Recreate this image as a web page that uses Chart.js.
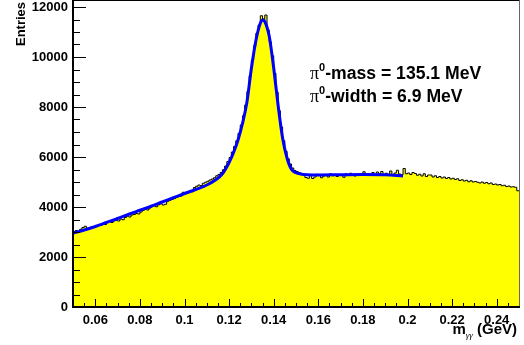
<!DOCTYPE html>
<html>
<head>
<meta charset="utf-8">
<script src="https://cdn.jsdelivr.net/npm/chart.js@4.4.1/dist/chart.umd.min.js"></script>
<style>
  html, body { margin: 0; padding: 0; background: #fff; }
  canvas { display: block; }
</style>
</head>
<body>
<canvas id="massChart" width="524" height="345"></canvas>
<script>
// m(gamma gamma) histogram, 1 MeV bins from 0.05 to 0.25 GeV
const binStart = 0.05;
const binWidth = 0.001;
const entries = [
    3020, 3060, 3000, 3110, 3180, 3230, 3150, 3130, 3210, 3190,
    3240, 3280, 3260, 3340, 3300, 3390, 3420, 3380, 3450, 3470,
    3440, 3520, 3490, 3580, 3630, 3600, 3680, 3700, 3740, 3720,
    3800, 3870, 3900, 3880, 3960, 4020, 4050, 4010, 4090, 4130,
    4080, 4110, 4230, 4270, 4300, 4340, 4380, 4420, 4440, 4590,
    4530, 4560, 4640, 4610, 4780, 4830, 4880, 4860, 4950, 4990,
    5030, 5080, 5120, 5170, 5250, 5300, 5380, 5490, 5640, 5820,
    5980, 6200, 6420, 6650, 6950, 7280, 7650, 8080, 8620, 9250,
    9880, 10450, 10950, 11280, 11650, 11520, 11680, 11080, 10600, 10050,
    9350, 8600, 7850, 7200, 6650, 6230, 5930, 5720, 5560, 5460,
    5420, 5380, 5300, 5310, 5180, 5150, 5290, 5140, 5200, 5310,
    5260, 5170, 5240, 5280, 5200, 5330, 5250, 5280, 5220, 5300,
    5260, 5190, 5330, 5290, 5350, 5280, 5240, 5320, 5300, 5260,
    5410, 5300, 5330, 5260, 5380, 5290, 5400, 5340, 5420, 5300,
    5350, 5280, 5440, 5300, 5360, 5470, 5320, 5290, 5540, 5330,
    5360, 5300, 5380, 5340, 5270, 5310, 5240, 5330, 5220, 5280,
    5280, 5200, 5250, 5180, 5220, 5160, 5200, 5140, 5180, 5120,
    5150, 5100, 5130, 5060, 5090, 5040, 5070, 5010, 5050, 5000,
    5020, 4990, 4960, 5000, 4950, 4980, 4930, 4960, 4900, 4920,
    4880, 4900, 4850, 4870, 4820, 4840, 4800, 4810, 4790, 4650
];

// fit curve (peak + background)
const fitMass = [
    0.050, 0.055, 0.060, 0.065, 0.070, 0.075, 0.080, 0.085, 0.090, 0.095,
    0.100, 0.105, 0.110, 0.114, 0.117, 0.120, 0.122, 0.124, 0.126, 0.128,
    0.130, 0.132, 0.134, 0.1351, 0.136, 0.138, 0.140, 0.142, 0.144, 0.146,
    0.148, 0.150, 0.152, 0.155, 0.160, 0.170, 0.180, 0.190, 0.198
];
const fitValue = [
    2950, 3080, 3220, 3380, 3540, 3710, 3870, 4030, 4200, 4370,
    4540, 4700, 4880, 5090, 5330, 5780, 6180, 6680, 7340, 8200,
    9550, 10650, 11350, 11480, 11420, 10830, 9560, 8050, 6750, 5950,
    5500, 5370, 5320, 5290, 5280, 5290, 5300, 5290, 5240
];

const xTickValues = [0.06, 0.08, 0.10, 0.12, 0.14, 0.16, 0.18, 0.20, 0.22, 0.24];
const xTickLabels = ["0.06", "0.08", "0.1", "0.12", "0.14", "0.16", "0.18", "0.2", "0.22", "0.24"];
const yTickValues = [0, 2000, 4000, 6000, 8000, 10000, 12000];
const yTickLabels = ["0", "2000", "4000", "6000", "8000", "10000", "12000"];

const fitTexts = ["-mass = 135.1 MeV", "-width = 6.9 MeV"];

const FONT = "'Liberation Sans', Arial, Helvetica, sans-serif";

const histPoints = entries.map((n, i) => ({ x: binStart + i * binWidth, y: n }));
histPoints.push({ x: binStart + entries.length * binWidth, y: entries[entries.length - 1] });

const fitPoints = fitMass.map((m, i) => ({ x: m, y: fitValue[i] }));

// frame, inward ticks and the text labels, ROOT style
const rootFrame = {
    id: "rootFrame",
    afterDraw(chart) {
        const ctx = chart.ctx;
        const a = chart.chartArea;
        const xs = chart.scales.x;
        const ys = chart.scales.y;
        ctx.save();

        ctx.strokeStyle = "#000";
        ctx.lineWidth = 1;
        ctx.beginPath();
        for (let k = 50; k <= 250; k += 5) {
            const px = Math.round(xs.getPixelForValue(k / 1000)) + 0.5;
            const len = (k % 20 === 0) ? 8 : 4;
            ctx.moveTo(px, a.bottom);
            ctx.lineTo(px, a.bottom - len);
        }
        for (let k = 0; k <= 12000; k += 500) {
            const py = Math.round(ys.getPixelForValue(k)) + 0.5;
            const len = (k % 2000 === 0) ? 13 : 7;
            ctx.moveTo(a.left, py);
            ctx.lineTo(a.left + len, py);
        }
        ctx.stroke();

        // frame
        ctx.strokeStyle = "#000";
        ctx.lineWidth = 1;
        ctx.beginPath();
        ctx.moveTo(a.left, a.top + 0.5);
        ctx.lineTo(a.right, a.top + 0.5);
        ctx.stroke();
        ctx.strokeStyle = "#666";
        ctx.beginPath();
        ctx.moveTo(a.right + 0.5, a.top);
        ctx.lineTo(a.right + 0.5, a.bottom);
        ctx.stroke();
        ctx.strokeStyle = "#000";
        ctx.lineWidth = 2;
        ctx.beginPath();
        ctx.moveTo(a.left, a.top);
        ctx.lineTo(a.left, a.bottom);
        ctx.lineTo(a.right + 1, a.bottom);
        ctx.stroke();

        // y title
        ctx.fillStyle = "#000";
        ctx.save();
        ctx.translate(21, 24);
        ctx.rotate(-Math.PI / 2);
        ctx.font = "bold 13px " + FONT;
        ctx.textAlign = "center";
        ctx.textBaseline = "middle";
        ctx.fillText("Entries", 0, 0);
        ctx.restore();

        // x title: m_{gamma gamma} (GeV), right aligned
        ctx.textBaseline = "alphabetic";
        ctx.textAlign = "left";
        const xt1 = "m", xt2 = "\u03b3\u03b3", xt3 = " (GeV)";
        ctx.font = "bold 15px " + FONT;
        const w1 = ctx.measureText(xt1).width;
        const w3 = ctx.measureText(xt3).width;
        ctx.font = "italic 9px 'Liberation Serif', 'DejaVu Serif', serif";
        const w2 = ctx.measureText(xt2).width;
        let x0 = 517 - (w1 + w2 + w3);
        ctx.font = "bold 15px " + FONT;
        ctx.fillText(xt1, x0, 334);
        ctx.font = "italic 9px 'Liberation Serif', 'DejaVu Serif', serif";
        ctx.fillText(xt2, x0 + w1, 338);
        ctx.font = "bold 15px " + FONT;
        ctx.fillText(xt3, x0 + w1 + w2, 334);

        // fit results
        const baselines = [79, 102];
        fitTexts.forEach((t, i) => {
            let x = 310;
            const y = baselines[i];
            ctx.font = "18px 'Liberation Serif', 'DejaVu Serif', serif";
            ctx.fillText("\u03c0", x, y);
            x += ctx.measureText("\u03c0").width;
            ctx.font = "bold 11px " + FONT;
            ctx.fillText("0", x, y - 8);
            x += ctx.measureText("0").width;
            ctx.font = "bold 17.6px " + FONT;
            ctx.fillText(t, x, y);
        });

        ctx.restore();
    }
};

new Chart(document.getElementById("massChart").getContext("2d"), {
    type: "line",
    data: {
        datasets: [{
            label: "fit",
            data: fitPoints,
            borderColor: "#0000ff",
            borderWidth: 3,
            pointRadius: 0,
            fill: false,
            cubicInterpolationMode: "monotone",
            order: 0
        }, {
            label: "m_gg",
            data: histPoints,
            stepped: "before",
            borderColor: "#000",
            borderWidth: 1,
            backgroundColor: "#ffff00",
            fill: "origin",
            pointRadius: 0,
            order: 1
        }]
    },
    options: {
        responsive: false,
        animation: false,
        devicePixelRatio: 1,
        layout: { padding: { top: 0, right: 5, left: 0, bottom: 0 } },
        plugins: { legend: { display: false }, tooltip: { enabled: false } },
        scales: {
            x: {
                type: "linear",
                min: 0.05,
                max: 0.25,
                grid: { display: false, drawTicks: false },
                border: { display: false },
                afterBuildTicks: scale => { scale.ticks = xTickValues.map(v => ({ value: v })); },
                afterFit: scale => { scale.height = 38; scale.paddingLeft = 0; scale.paddingRight = 0; },
                ticks: {
                    autoSkip: false,
                    maxRotation: 0,
                    padding: 6,
                    color: "#000",
                    font: { family: FONT, size: 13, weight: "bold" },
                    callback: (v, i) => xTickLabels[i]
                }
            },
            y: {
                min: 0,
                max: 12280,
                grid: { display: false, drawTicks: false },
                border: { display: false },
                afterBuildTicks: scale => { scale.ticks = yTickValues.map(v => ({ value: v })); },
                afterFit: scale => { scale.width = 73; scale.paddingTop = 0; scale.paddingBottom = 0; },
                ticks: {
                    padding: 5,
                    color: "#000",
                    font: { family: FONT, size: 13, weight: "bold" },
                    callback: (v, i) => yTickLabels[i]
                }
            }
        }
    },
    plugins: [rootFrame]
});
</script>
</body>
</html>
